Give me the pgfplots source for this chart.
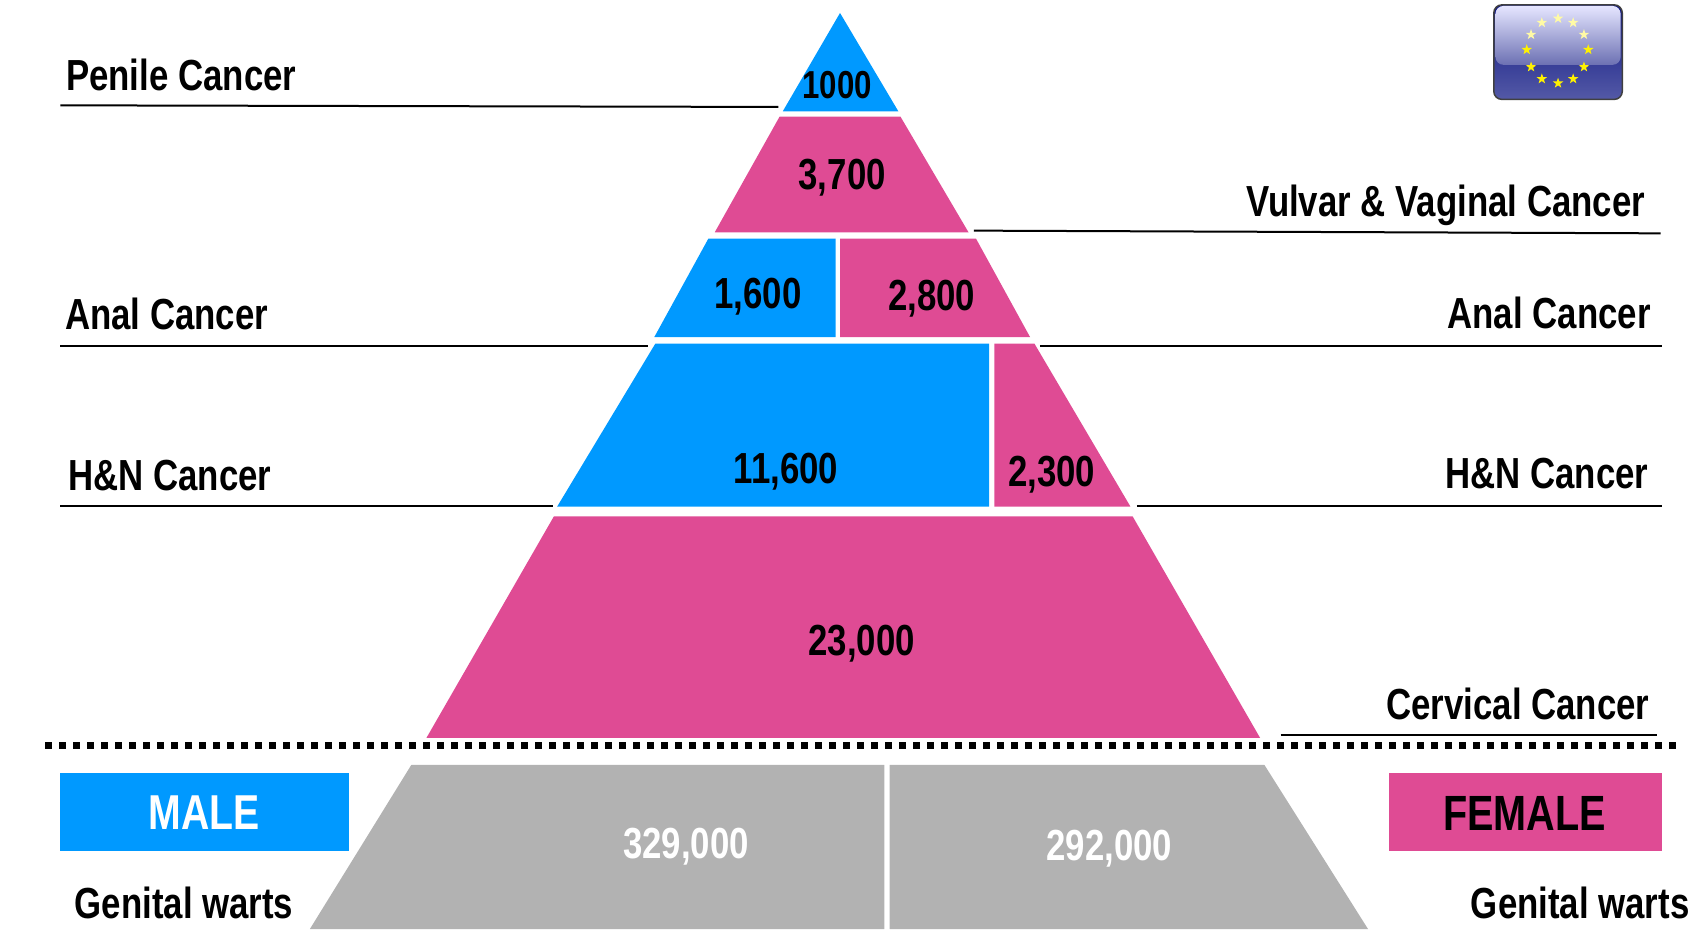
\documentclass[border=0pt]{standalone}
\usepackage{pgfplots}
\pgfplotsset{compat=1.18}
\usepackage{fontspec}
\setmainfont[FakeStretch=0.8]{Liberation Sans}
\definecolor{mblue}{HTML}{0099FF}
\definecolor{fpink}{HTML}{DF4B94}
\definecolor{wgray}{HTML}{B2B2B2}
\definecolor{navy}{HTML}{0A1280}
\newcommand{\T}[1]{\fontsize{43.5}{44}\selectfont\bfseries #1}
\pgfdeclareplotmark{fstar}{%
  \pgfpathmoveto{\pgfqpointpolar{90}{\pgfplotmarksize}}%
  \pgfpathlineto{\pgfqpointpolar{126}{.4\pgfplotmarksize}}%
  \pgfpathlineto{\pgfqpointpolar{162}{\pgfplotmarksize}}%
  \pgfpathlineto{\pgfqpointpolar{198}{.4\pgfplotmarksize}}%
  \pgfpathlineto{\pgfqpointpolar{234}{\pgfplotmarksize}}%
  \pgfpathlineto{\pgfqpointpolar{270}{.4\pgfplotmarksize}}%
  \pgfpathlineto{\pgfqpointpolar{306}{\pgfplotmarksize}}%
  \pgfpathlineto{\pgfqpointpolar{342}{.4\pgfplotmarksize}}%
  \pgfpathlineto{\pgfqpointpolar{18}{\pgfplotmarksize}}%
  \pgfpathlineto{\pgfqpointpolar{54}{.4\pgfplotmarksize}}%
  \pgfpathclose\pgfusepathqfill}
\begin{document}
\begin{tikzpicture}
\useasboundingbox (0,0) rectangle (1693pt,929pt);
\begin{axis}[width=1693pt,height=929pt,scale only axis,axis lines=none,
  xmin=0,xmax=1568,ymin=0,ymax=860,y dir=reverse,clip=true,
  every axis plot/.append style={line join=miter}]
% pyramid
\addplot[fill=mblue,draw=none] coordinates {(778,12)(832,103)(725,103)} -- cycle;
\addplot[fill=fpink,draw=none] coordinates {(722,108)(834,108)(897,215)(662,215)} -- cycle;
\addplot[fill=mblue,draw=none] coordinates {(656,221)(774,221)(774,312)(606,312)} -- cycle;
\addplot[fill=fpink,draw=none] coordinates {(778,221)(904,221)(954,312)(778,312)} -- cycle;
\addplot[fill=mblue,draw=none] coordinates {(607,318)(916,318)(916,469)(516,469)} -- cycle;
\addplot[fill=fpink,draw=none] coordinates {(921,318)(958,318)(1047,469)(921,469)} -- cycle;
\addplot[fill=fpink,draw=none] coordinates {(513,478)(1049,478)(1167,683)(395,683)} -- cycle;
\addplot[fill=wgray,draw=none] coordinates {(381,708)(819,708)(819,860)(287,860)} -- cycle;
\addplot[fill=wgray,draw=none] coordinates {(824,708)(1171,708)(1267,860)(824,860)} -- cycle;
% leader lines
\addplot[black,line width=2pt] coordinates {(56,97.5)(721,99)};
\addplot[black,line width=2pt] coordinates {(902,213.5)(1538,216)};
\addplot[black,line width=2pt] coordinates {(56,320.5)(600,320.5)};
\addplot[black,line width=2pt] coordinates {(963,320.5)(1539,320.5)};
\addplot[black,line width=2pt] coordinates {(56,468.5)(512,468.5)};
\addplot[black,line width=2pt] coordinates {(1053,468.5)(1539,468.5)};
\addplot[black,line width=2pt] coordinates {(1186,680.5)(1535,680.5)};
% dotted divider
\addplot[black,line width=7pt,dash pattern=on 7pt off 7pt] coordinates {(42,690)(1552,690)};
% legend boxes
\addplot[fill=mblue,draw=none] coordinates {(55.5,716)(323,716)(323,788)(55.5,788)} -- cycle;
\addplot[fill=fpink,draw=none] coordinates {(1286,716)(1539,716)(1539,788)(1286,788)} -- cycle;
% flag
\shade[top color=navy,bottom color=navy!70!white,draw=black!75,line width=1.5pt,rounded corners=8pt]
  (axis cs:1383.5,4.5) rectangle (axis cs:1502.5,92);
\shade[top color=white!90!blue,bottom color=navy!60!white,rounded corners=8pt]
  (axis cs:1385,5.5) rectangle (axis cs:1501,60);
\addplot[only marks,mark=fstar,mark size=5.5pt,draw=none,fill=yellow!35!white,mark options={fill=yellow!35!white,draw=none}] coordinates {
 (1443,17)(1457,21)(1428,21)(1467,32)(1418,32)};
\addplot[only marks,mark=fstar,mark size=5.5pt,mark options={fill=yellow,draw=none}] coordinates {
 (1471,46)(1467,62)(1457,73)(1443,77)(1428,73)(1418,62)(1414,46)};
% labels
\node[anchor=base west] at (axis cs:58,84) {\T{Penile Cancer}};
\node[anchor=base west] at (axis cs:57,305) {\T{Anal Cancer}};
\node[anchor=base west] at (axis cs:60,454) {\T{H\&N Cancer}};
\node[anchor=base east] at (axis cs:1527,200) {\T{Vulvar \& Vaginal Cancer}};
\node[anchor=base east] at (axis cs:1532,304) {\T{Anal Cancer}};
\node[anchor=base east] at (axis cs:1530,452) {\T{H\&N Cancer}};
\node[anchor=base east] at (axis cs:1531,666) {\T{Cervical Cancer}};
\node[anchor=base] at (axis cs:775.5,91) {\fontsize{39}{39}\selectfont\bfseries 1000};
\node[anchor=base] at (axis cs:780,175) {\T{3,700}};
\node[anchor=base] at (axis cs:702,286) {\T{1,600}};
\node[anchor=base] at (axis cs:863,287) {\T{2,800}};
\node[anchor=base] at (axis cs:728,448) {\T{11,600}};
\node[anchor=base] at (axis cs:974,450) {\T{2,300}};
\node[anchor=base] at (axis cs:798,607) {\T{23,000}};
\node[anchor=base,white] at (axis cs:635.5,795) {\T{329,000}};
\node[anchor=base,white] at (axis cs:1027.5,797) {\T{292,000}};
\node[anchor=base,white] at (axis cs:189,768) {\fontsize{49}{49}\selectfont\bfseries MALE};
\node[anchor=base] at (axis cs:1412,769) {\fontsize{49.5}{49}\selectfont\bfseries FEMALE};
\node[anchor=base west] at (axis cs:66,850) {\T{Genital warts}};
\node[anchor=base east] at (axis cs:1568,850) {\T{Genital warts}};
\end{axis}
\end{tikzpicture}
\end{document}
